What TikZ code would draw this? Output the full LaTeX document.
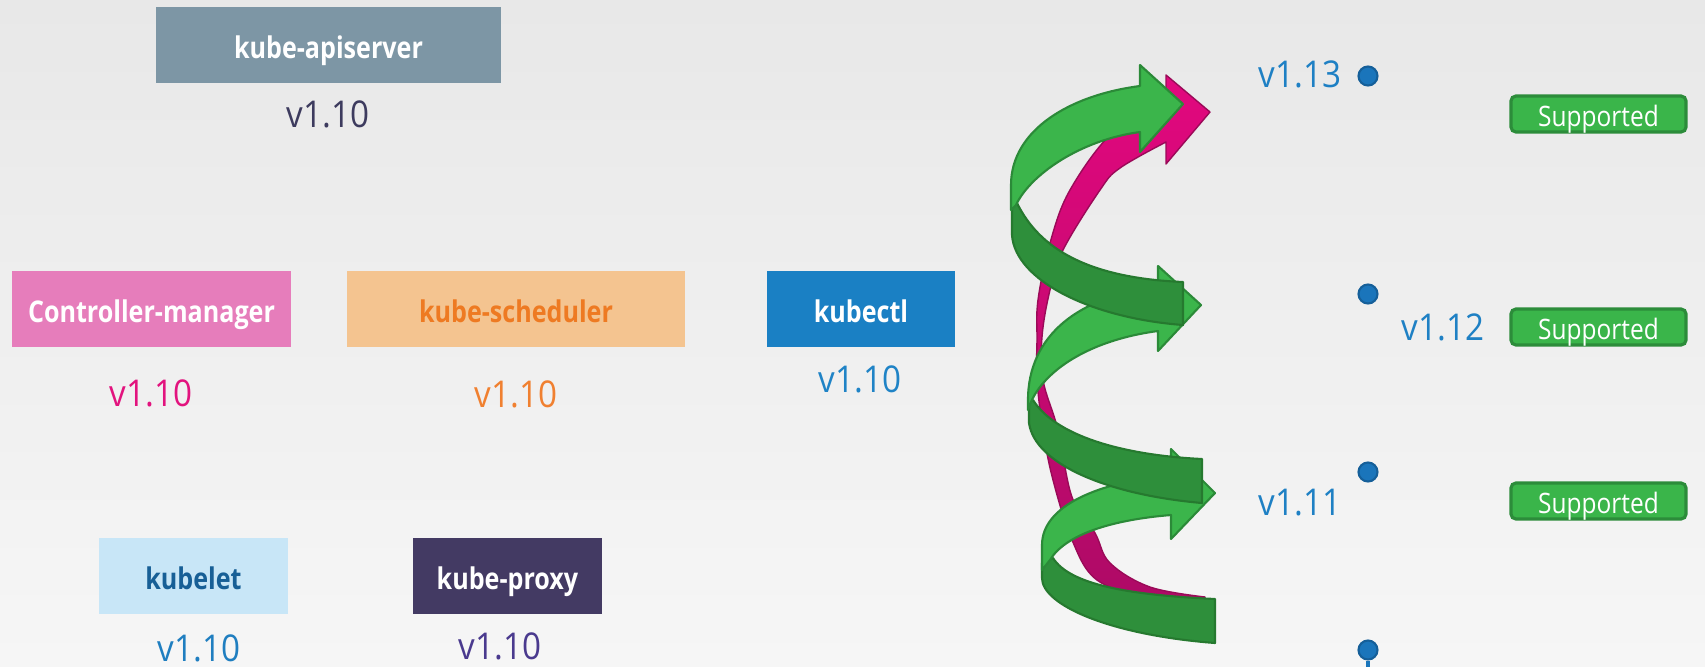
\documentclass[tikz,border=0pt]{standalone}
\usepackage{fontspec}
\setmainfont{Open Sans}
\usepackage{graphicx}
\definecolor{bgT}{HTML}{E8E8E8}
\definecolor{bgB}{HTML}{F6F6F6}
\definecolor{apiBox}{HTML}{7D96A5}
\definecolor{apiVer}{HTML}{3D3B5E}
\definecolor{ctrlBox}{HTML}{E67DBB}
\definecolor{ctrlVer}{HTML}{E2137E}
\definecolor{schedBox}{HTML}{F4C490}
\definecolor{schedTxt}{HTML}{EE7A22}
\definecolor{schedVer}{HTML}{F08030}
\definecolor{ctlBox}{HTML}{1A80C4}
\definecolor{ctlVer}{HTML}{1F83C6}
\definecolor{letBox}{HTML}{C8E6F7}
\definecolor{letTxt}{HTML}{175F96}
\definecolor{letVer}{HTML}{1F7EC0}
\definecolor{proxBox}{HTML}{433A63}
\definecolor{proxVer}{HTML}{4A3A8E}
\definecolor{rVer}{HTML}{1E80C4}
\definecolor{dotF}{HTML}{1A75BB}
\definecolor{dotB}{HTML}{155F99}
\definecolor{supF}{HTML}{3AB54A}
\definecolor{supB}{HTML}{2C8C3A}
\definecolor{gL}{HTML}{3BB54B}
\definecolor{gLb}{HTML}{2B8A38}
\definecolor{gD}{HTML}{2E8F3B}
\definecolor{gDb}{HTML}{26792F}
\definecolor{mgT}{HTML}{E2087E}
\definecolor{mgB}{HTML}{AE0A66}
\definecolor{mgD}{HTML}{9A0A58}
\newcommand{\sqz}[1]{\scalebox{0.9}[1]{#1}}
\newcommand{\sqb}[1]{\scalebox{0.84}[1]{#1}}
\newcommand{\sqs}[1]{\scalebox{0.87}[1]{#1}}
\begin{document}
\begin{tikzpicture}[x=0.01cm,y=-0.01cm,
  box/.style={rectangle, inner sep=0pt, text height=0.75em, text depth=0pt,
    font=\fontsize{8.5}{10}\selectfont\bfseries},
  ver/.style={inner sep=0pt, text height=0.72em, text depth=0pt, font=\fontsize{10.5}{12}\selectfont},
  dot/.style={circle, minimum size=0.19cm, inner sep=0pt, fill=dotF, draw=dotB, line width=0.6pt},
  sup/.style={rectangle, rounded corners=0.05cm, minimum width=1.75cm, minimum height=0.36cm,
    fill=supF, draw=supB, line width=0.9pt, text=white, inner sep=0pt,
    text height=0.72em, text depth=0pt, font=\fontsize{8}{9}\selectfont},
  gl/.style={fill=gL, draw=gLb, line width=0.6pt, line join=round},
  gd/.style={fill=gD, draw=gDb, line width=0.6pt, line join=round},
  mg/.style={top color=mgT, bottom color=mgB, draw=mgD, line width=0.4pt, line join=round},
  tl/.style={draw=dotF, line width=1pt}
]
\useasboundingbox (0,0) rectangle (1705,666);
\fill[top color=bgT, bottom color=bgB] (0,0) rectangle (1705,666);

% magenta arrow (behind)
\path[mg] (1166,100) -- (1166,75) -- (1210,112) -- (1166,164) -- (1166,142)
  -- plot[smooth, tension=0.6] coordinates {(1166,142) (1120,168) (1100,190) (1063,250) (1050,290) (1042,337) (1043,380) (1058,430) (1072,497) (1095,533) (1110,563) (1150,587) (1205,597)}
  -- plot[smooth, tension=0.6] coordinates {(1205,603) (1150,598) (1097,580) (1072,540) (1053,480) (1043,430) (1037,380) (1037,340) (1038,300) (1050,243) (1070,190) (1113,132) (1166,100)}
  -- cycle;

% green arrow 3 (bottom)
\path[gd] (1053,558) -- (1042,563) -- (1042,578) .. controls (1042,605) and (1110,635) .. (1215,643)
  -- (1215,599) .. controls (1130,595) and (1070,585) .. (1053,558) -- cycle;
\path[gl] (1042,570) -- (1042,545) .. controls (1042,505) and (1100,482) .. (1171,475)
  -- (1171,449) -- (1215,493) -- (1171,539) -- (1171,515)
  .. controls (1110,520) and (1065,535) .. (1050,560) -- cycle;

% green arrow 2 (middle)
\path[gd] (1033,400) -- (1029,402) -- (1029,423) .. controls (1035,465) and (1110,495) .. (1202,503)
  -- (1202,459) .. controls (1120,455) and (1055,435) .. (1033,400) -- cycle;
\path[gl] (1028,410) -- (1028,400) .. controls (1028,335) and (1080,295) .. (1158,288)
  -- (1158,266) -- (1201,305) -- (1158,351) -- (1158,331)
  .. controls (1090,340) and (1045,370) .. (1031,402) -- cycle;

% green arrow 1 (top)
\path[gd] (1017,203) -- (1012,205) -- (1012,235) .. controls (1015,280) and (1090,318) .. (1183,325)
  -- (1183,282) .. controls (1090,278) and (1040,250) .. (1017,203) -- cycle;
\path[gl] (1011,210) -- (1011,185) .. controls (1011,130) and (1070,95) .. (1140,86)
  -- (1140,65) -- (1183,104) -- (1140,152) -- (1140,132)
  .. controls (1080,140) and (1030,175) .. (1016,205) -- cycle;

% component boxes
\node[box, fill=apiBox, text=white, minimum width=3.45cm, minimum height=0.76cm] (api) at (328.5,45) {\sqb{kube-apiserver}};
\node[ver, text=apiVer] (apiv) at (328,115) {\sqz{v1.10}};
\node[box, fill=ctrlBox, text=white, minimum width=2.79cm, minimum height=0.76cm] (ctrl) at (151.5,309) {\sqb{Controller-manager}};
\node[ver, text=ctrlVer] (ctrlv) at (151,394) {\sqz{v1.10}};
\node[box, fill=schedBox, text=schedTxt, minimum width=3.38cm, minimum height=0.76cm] (sched) at (516,309) {\sqb{kube-scheduler}};
\node[ver, text=schedVer] (schedv) at (516,395) {\sqz{v1.10}};
\node[box, fill=ctlBox, text=white, minimum width=1.88cm, minimum height=0.76cm] (ctl) at (861,309) {\sqb{kubectl}};
\node[ver, text=ctlVer] (ctlv) at (860,380) {\sqz{v1.10}};
\node[box, fill=letBox, text=letTxt, minimum width=1.89cm, minimum height=0.76cm] (let) at (193.5,576) {\sqb{kubelet}};
\node[ver, text=letVer] (letv) at (199,649) {\sqz{v1.10}};
\node[box, fill=proxBox, text=white, minimum width=1.89cm, minimum height=0.76cm] (prox) at (507.5,576) {\sqb{kube-proxy}};
\node[ver, text=proxVer] (proxv) at (500,647) {\sqz{v1.10}};

% timeline
\node[dot] (d13) at (1368,76) {};
\node[dot] (d12) at (1368,294) {};
\node[dot] (d11) at (1368,472) {};
\node[dot] (d10) at (1368,650) {};
\coordinate (dend) at (1368,668);
\draw[tl] (d10) -- (dend);
\node[ver, text=rVer, anchor=east] (v13) at (1342,75) {\sqz{v1.13}};
\node[ver, text=rVer] (v12) at (1443,328) {\sqz{v1.12}};
\node[ver, text=rVer, anchor=east] (v11) at (1342,503) {\sqz{v1.11}};
\node[sup] (s13) at (1598.5,114) {\sqs{Supported}};
\node[sup] (s12) at (1598.5,327) {\sqs{Supported}};
\node[sup] (s11) at (1598.5,501) {\sqs{Supported}};
\end{tikzpicture}
\end{document}
